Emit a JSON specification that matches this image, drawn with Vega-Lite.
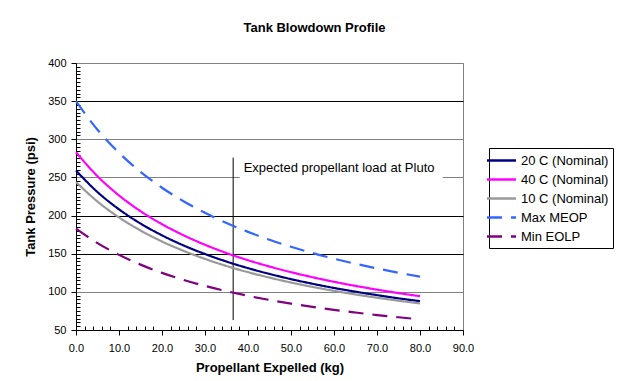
{
  "$schema": "https://vega.github.io/schema/vega-lite/v6.json",
  "width": 387,
  "height": 267,
  "autosize": "none",
  "padding": {"left": 76, "top": 63, "right": 155, "bottom": 51},
  "background": "white",
  "title": {"text": "Tank Blowdown Profile", "font": "Liberation Sans", "fontSize": 13, "fontWeight": "bold", "color": "black", "anchor": "middle", "dx": 45, "offset": 22},
  "config": {"view": {"stroke": "#808080", "strokeWidth": 1}},
  "datasets": {
    "curves": [
      {"kg": 0, "psi": 259, "series": "20 C (Nominal)"},
      {"kg": 5, "psi": 230.8, "series": "20 C (Nominal)"},
      {"kg": 10, "psi": 208.2, "series": "20 C (Nominal)"},
      {"kg": 15, "psi": 189.6, "series": "20 C (Nominal)"},
      {"kg": 20, "psi": 174.1, "series": "20 C (Nominal)"},
      {"kg": 25, "psi": 160.9, "series": "20 C (Nominal)"},
      {"kg": 30, "psi": 149.6, "series": "20 C (Nominal)"},
      {"kg": 35, "psi": 139.7, "series": "20 C (Nominal)"},
      {"kg": 40, "psi": 131.1, "series": "20 C (Nominal)"},
      {"kg": 45, "psi": 123.5, "series": "20 C (Nominal)"},
      {"kg": 50, "psi": 116.7, "series": "20 C (Nominal)"},
      {"kg": 55, "psi": 110.6, "series": "20 C (Nominal)"},
      {"kg": 60, "psi": 105.1, "series": "20 C (Nominal)"},
      {"kg": 65, "psi": 100.2, "series": "20 C (Nominal)"},
      {"kg": 70, "psi": 95.7, "series": "20 C (Nominal)"},
      {"kg": 75, "psi": 91.5, "series": "20 C (Nominal)"},
      {"kg": 80, "psi": 87.8, "series": "20 C (Nominal)"},
      {"kg": 0, "psi": 283, "series": "40 C (Nominal)"},
      {"kg": 5, "psi": 251.6, "series": "40 C (Nominal)"},
      {"kg": 10, "psi": 226.4, "series": "40 C (Nominal)"},
      {"kg": 15, "psi": 205.8, "series": "40 C (Nominal)"},
      {"kg": 20, "psi": 188.7, "series": "40 C (Nominal)"},
      {"kg": 25, "psi": 174.2, "series": "40 C (Nominal)"},
      {"kg": 30, "psi": 161.7, "series": "40 C (Nominal)"},
      {"kg": 35, "psi": 150.9, "series": "40 C (Nominal)"},
      {"kg": 40, "psi": 141.5, "series": "40 C (Nominal)"},
      {"kg": 45, "psi": 133.2, "series": "40 C (Nominal)"},
      {"kg": 50, "psi": 125.8, "series": "40 C (Nominal)"},
      {"kg": 55, "psi": 119.2, "series": "40 C (Nominal)"},
      {"kg": 60, "psi": 113.2, "series": "40 C (Nominal)"},
      {"kg": 65, "psi": 107.8, "series": "40 C (Nominal)"},
      {"kg": 70, "psi": 102.9, "series": "40 C (Nominal)"},
      {"kg": 75, "psi": 98.4, "series": "40 C (Nominal)"},
      {"kg": 80, "psi": 94.3, "series": "40 C (Nominal)"},
      {"kg": 0, "psi": 244, "series": "10 C (Nominal)"},
      {"kg": 5, "psi": 218.4, "series": "10 C (Nominal)"},
      {"kg": 10, "psi": 197.6, "series": "10 C (Nominal)"},
      {"kg": 15, "psi": 180.5, "series": "10 C (Nominal)"},
      {"kg": 20, "psi": 166.0, "series": "10 C (Nominal)"},
      {"kg": 25, "psi": 153.8, "series": "10 C (Nominal)"},
      {"kg": 30, "psi": 143.2, "series": "10 C (Nominal)"},
      {"kg": 35, "psi": 133.9, "series": "10 C (Nominal)"},
      {"kg": 40, "psi": 125.8, "series": "10 C (Nominal)"},
      {"kg": 45, "psi": 118.7, "series": "10 C (Nominal)"},
      {"kg": 50, "psi": 112.2, "series": "10 C (Nominal)"},
      {"kg": 55, "psi": 106.5, "series": "10 C (Nominal)"},
      {"kg": 60, "psi": 101.3, "series": "10 C (Nominal)"},
      {"kg": 65, "psi": 96.6, "series": "10 C (Nominal)"},
      {"kg": 70, "psi": 92.3, "series": "10 C (Nominal)"},
      {"kg": 75, "psi": 88.4, "series": "10 C (Nominal)"},
      {"kg": 80, "psi": 84.8, "series": "10 C (Nominal)"},
      {"kg": 0, "psi": 350, "series": "Max MEOP"},
      {"kg": 5, "psi": 312.5, "series": "Max MEOP"},
      {"kg": 10, "psi": 282.3, "series": "Max MEOP"},
      {"kg": 15, "psi": 257.4, "series": "Max MEOP"},
      {"kg": 20, "psi": 236.5, "series": "Max MEOP"},
      {"kg": 25, "psi": 218.8, "series": "Max MEOP"},
      {"kg": 30, "psi": 203.6, "series": "Max MEOP"},
      {"kg": 35, "psi": 190.3, "series": "Max MEOP"},
      {"kg": 40, "psi": 178.6, "series": "Max MEOP"},
      {"kg": 45, "psi": 168.3, "series": "Max MEOP"},
      {"kg": 50, "psi": 159.2, "series": "Max MEOP"},
      {"kg": 55, "psi": 150.9, "series": "Max MEOP"},
      {"kg": 60, "psi": 143.5, "series": "Max MEOP"},
      {"kg": 65, "psi": 136.8, "series": "Max MEOP"},
      {"kg": 70, "psi": 130.7, "series": "Max MEOP"},
      {"kg": 75, "psi": 125.1, "series": "Max MEOP"},
      {"kg": 80, "psi": 119.9, "series": "Max MEOP"},
      {"kg": 0, "psi": 183, "series": "Min EOLP"},
      {"kg": 5, "psi": 163.9, "series": "Min EOLP"},
      {"kg": 10, "psi": 148.5, "series": "Min EOLP"},
      {"kg": 15, "psi": 135.7, "series": "Min EOLP"},
      {"kg": 20, "psi": 124.9, "series": "Min EOLP"},
      {"kg": 25, "psi": 115.7, "series": "Min EOLP"},
      {"kg": 30, "psi": 107.8, "series": "Min EOLP"},
      {"kg": 35, "psi": 100.9, "series": "Min EOLP"},
      {"kg": 40, "psi": 94.8, "series": "Min EOLP"},
      {"kg": 45, "psi": 89.4, "series": "Min EOLP"},
      {"kg": 50, "psi": 84.6, "series": "Min EOLP"},
      {"kg": 55, "psi": 80.3, "series": "Min EOLP"},
      {"kg": 60, "psi": 76.4, "series": "Min EOLP"},
      {"kg": 65, "psi": 72.9, "series": "Min EOLP"},
      {"kg": 70, "psi": 69.6, "series": "Min EOLP"},
      {"kg": 75, "psi": 66.7, "series": "Min EOLP"},
      {"kg": 80, "psi": 64.0, "series": "Min EOLP"}
    ],
    "marker": [{"kg": 36.55, "psi": 276, "psi2": 63}],
    "labelbox": [{"kg": 38.1, "kg2": 85.3, "psi": 276, "psi2": 245}],
    "note": [{"kg": 39, "psi": 263, "label": "Expected propellant load at Pluto"}]
  },
  "layer": [
    {
      "data": {"name": "labelbox"},
      "mark": {"type": "rect", "fill": "white", "stroke": null},
      "encoding": {
        "x": {"field": "kg", "type": "quantitative"},
        "x2": {"field": "kg2"},
        "y": {"field": "psi", "type": "quantitative"},
        "y2": {"field": "psi2"}
      }
    },
    {
      "data": {"name": "marker"},
      "mark": {"type": "rule", "color": "black", "strokeWidth": 1},
      "encoding": {
        "x": {"field": "kg", "type": "quantitative"},
        "y": {"field": "psi", "type": "quantitative"},
        "y2": {"field": "psi2"}
      }
    },
    {
      "data": {"name": "curves"},
      "mark": {"type": "line", "strokeWidth": 2.2, "interpolate": "monotone"},
      "encoding": {
        "x": {
          "field": "kg", "type": "quantitative",
          "scale": {"domain": [0, 90], "nice": false, "zero": false},
          "axis": {
            "title": "Propellant Expelled (kg)",
            "titleFont": "Liberation Sans", "titleFontSize": 13, "titleFontWeight": "bold", "titleColor": "black", "titlePadding": 8,
            "values": [0,2,4,6,8,10,12,14,16,18,20,22,24,26,28,30,32,34,36,38,40,42,44,46,48,50,52,54,56,58,60,62,64,66,68,70,72,74,76,78,80,82,84,86,88,90],
            "tickCount": 200,
            "labelExpr": "datum.value % 10 === 0 ? format(datum.value, '.1f') : ''",
            "labelFont": "Liberation Sans", "labelFontSize": 11, "labelColor": "black", "labelPadding": 7,
            "labelFlush": false, "labelOverlap": false,
            "domainColor": "black", "tickColor": "black",
            "tickSize": {"condition": {"test": "datum.value % 10 === 0", "value": 5}, "value": -4},
            "grid": false
          }
        },
        "y": {
          "field": "psi", "type": "quantitative",
          "scale": {"domain": [50, 400], "nice": false, "zero": false},
          "axis": {
            "title": "Tank Pressure (psi)",
            "titleFont": "Liberation Sans", "titleFontSize": 13, "titleFontWeight": "bold", "titleColor": "black", "titlePadding": 10,
            "values": [50,55,60,65,70,75,80,85,90,95,100,105,110,115,120,125,130,135,140,145,150,155,160,165,170,175,180,185,190,195,200,205,210,215,220,225,230,235,240,245,250,255,260,265,270,275,280,285,290,295,300,305,310,315,320,325,330,335,340,345,350,355,360,365,370,375,380,385,390,395,400],
            "tickCount": 200,
            "labelExpr": "datum.value % 50 === 0 ? format(datum.value, 'd') : ''",
            "labelFont": "Liberation Sans", "labelFontSize": 11, "labelColor": "black", "labelPadding": 5,
            "labelOverlap": false, "labelFlush": false,
            "domainColor": "black", "tickColor": "black",
            "tickSize": {"condition": {"test": "datum.value % 50 === 0", "value": 5}, "value": -4},
            "grid": true,
            "gridOpacity": {"condition": {"test": "datum.value % 50 === 0", "value": 1}, "value": 0},
            "gridColor": {"condition": {"test": "datum.value === 250 || datum.value === 300 || datum.value === 100 || datum.value === 400", "value": "#808080"}, "value": "black"},
            "gridWidth": 1
          }
        },
        "color": {
          "field": "series", "type": "nominal",
          "scale": {"domain": ["20 C (Nominal)", "40 C (Nominal)", "10 C (Nominal)", "Max MEOP", "Min EOLP"], "range": ["#000080", "#FF00FF", "#999999", "#3366FF", "#800080"]},
          "legend": {"title": null, "orient": "none", "legendX": 413, "legendY": 85, "strokeColor": "black", "fillColor": "white", "padding": 4, "labelFont": "Liberation Sans", "labelFontSize": 13, "labelColor": "black", "symbolType": "M-2.07,0H2.07", "symbolSize": 196, "symbolStrokeWidth": 2.5, "rowPadding": 3, "labelOffset": 11}
        },
        "strokeDash": {
          "field": "series", "type": "nominal",
          "scale": {"domain": ["20 C (Nominal)", "40 C (Nominal)", "10 C (Nominal)", "Max MEOP", "Min EOLP"], "range": [[1, 0], [1, 0], [1, 0], [15, 9], [15, 9]]},
          "legend": {"title": null, "orient": "none", "legendX": 413, "legendY": 85, "strokeColor": "black", "fillColor": "white", "padding": 4, "labelFont": "Liberation Sans", "labelFontSize": 13, "labelColor": "black", "symbolType": "M-2.07,0H2.07", "symbolSize": 196, "symbolStrokeWidth": 2.5, "rowPadding": 3, "labelOffset": 11}
        }
      }
    },
    {
      "data": {"name": "note"},
      "mark": {"type": "text", "align": "left", "baseline": "middle", "font": "Liberation Sans", "fontSize": 13, "color": "black"},
      "encoding": {
        "x": {"field": "kg", "type": "quantitative"},
        "y": {"field": "psi", "type": "quantitative"},
        "text": {"field": "label"}
      }
    }
  ]
}
